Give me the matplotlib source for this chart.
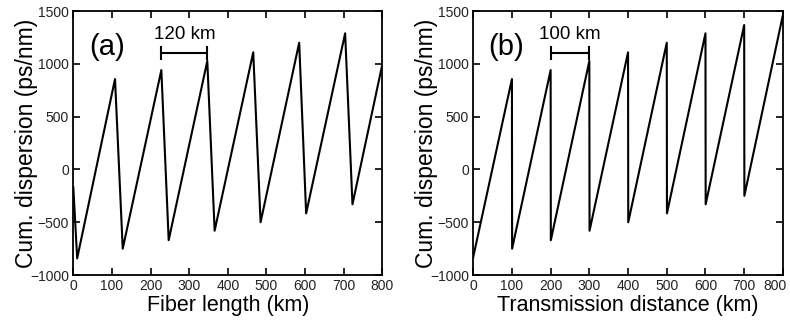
import matplotlib
matplotlib.use("Agg")
import matplotlib.pyplot as plt
from matplotlib.transforms import offset_copy

plt.rcParams['font.family'] = ['Liberation Sans', 'DejaVu Sans']

# panel (a): cumulative dispersion vs fiber length
fiber_km = [0, 10, 108, 128, 228, 247, 347, 366, 466, 485, 585, 603, 704, 723, 800]
fiber_disp = [-170, -842, 856, -750, 941, -670, 1027, -580, 1109, -500, 1200, -416, 1289, -330, 989]

# panel (b): cumulative dispersion vs transmission distance
trans_km = [0, 100, 100.5, 200, 200.5, 300, 300.5, 400, 400.5, 500, 500.5, 600, 600.5, 700, 700.5, 800]
trans_disp = [-830, 856, -750, 941, -670, 1027, -580, 1109, -500, 1200, -416, 1289, -330, 1367, -249, 1462]

xticks = [0, 100, 200, 300, 400, 500, 600, 700, 800]
yticks = [-1000, -500, 0, 500, 1000, 1500]


def style_axes(ax, xlabel, tag, span, span_label):
    ax.set_xlim(0, 800)
    ax.set_ylim(-1000, 1500)
    ax.set_xticks(xticks)
    ax.set_yticks(yticks)
    ax.tick_params(direction='in', top=True, right=True, length=5, width=1.2,
                   labelsize=10, pad=3, labelcolor='#222222')
    for s in ax.spines.values():
        s.set_linewidth(1.3)
    ax.set_xlabel(xlabel, fontsize=15.5, labelpad=1)
    ax.set_ylabel('Cum. dispersion (ps/nm)', fontsize=16.5, labelpad=-6)
    ax.text(0.05, 0.865, tag, transform=ax.transAxes, fontsize=21, va='center', ha='left')
    # scale bar showing the span length
    ax.plot(span, [1100, 1100], color='black', lw=1.5)
    for xs in span:
        ax.plot([xs, xs], [1045, 1155], color='black', lw=1.5)
    ax.text(sum(span) / 2, 1275, span_label, fontsize=13.5, ha='center', va='center')


fig = plt.figure(figsize=(7.9, 3.24), dpi=100)
ax1 = fig.add_axes([0.0928, 0.151, 0.391, 0.815])
ax2 = fig.add_axes([0.599, 0.151, 0.392, 0.815])

ax1.plot(fiber_km, fiber_disp, color='black', lw=1.5)
style_axes(ax1, 'Fiber length (km)', '(a)', [228, 347], '120 km')

ax2.plot(trans_km, trans_disp, color='black', lw=1.5)
style_axes(ax2, 'Transmission distance (km)', '(b)', [200, 300], '100 km')

# keep the last "800" label inside the figure edge
last = ax2.xaxis.get_major_ticks()[-1].label1
last.set_ha('right')
last.set_transform(offset_copy(last.get_transform(), fig=fig, x=4, units='dots'))

fig.savefig('out.png', dpi=100)
